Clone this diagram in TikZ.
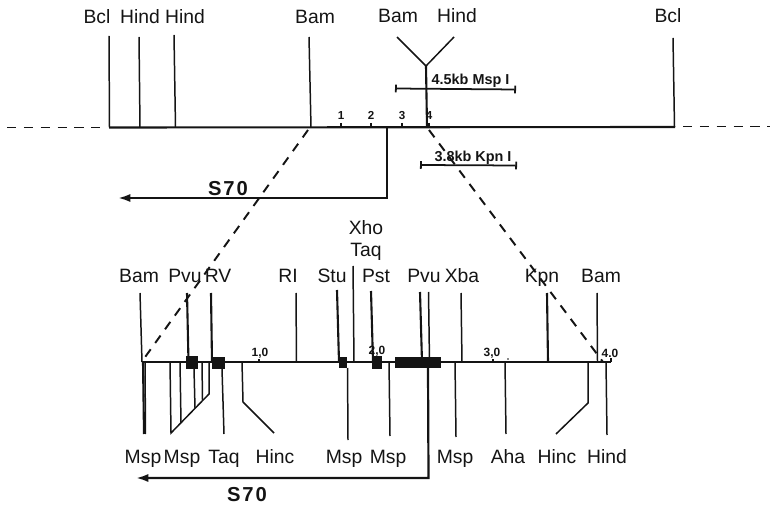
\documentclass[tikz,border=0pt]{standalone}
\usepackage{fontspec}
\setmainfont{Liberation Sans}
\usepackage{xcolor}
\usetikzlibrary{arrows.meta}
\definecolor{figline}{RGB}{20,20,20}
\tikzset{
  sc/.style   ={draw=figline, line width=0.85pt, line cap=butt},
  scb/.style  ={draw=figline, line width=1.2pt},
  dsh/.style  ={draw=figline, line width=1.1pt, dash pattern=on 5.2pt off 4.4pt},
  blk/.style  ={fill=figline, draw=none},
  lab/.style  ={font=\fontsize{11}{13}\selectfont, inner sep=0pt, anchor=base, text=figline},
  labs/.style ={font=\fontsize{6.6}{7}\selectfont\bfseries, inner sep=0pt, anchor=base, text=figline},
  labk/.style ={font=\fontsize{8.2}{9}\selectfont\bfseries, inner sep=0pt, anchor=base, text=figline},
  labm/.style ={font=\fontsize{6.8}{7}\selectfont\bfseries, inner sep=0pt, anchor=base, text=figline},
  labt/.style ={font=\fontsize{11.5}{13}\selectfont\bfseries\addfontfeature{LetterSpace=10}, inner sep=0pt, anchor=base, text=figline},
  ptr/.style  ={draw=figline, line width=1.25pt, -{Latex[length=7pt,width=4.6pt]}},
  rng/.style  ={draw=figline, line width=1pt, {Bar[width=4.4pt]}-{Bar[width=4.4pt]}},
}
\begin{document}
\begin{tikzpicture}[x=0.02cm,y=-0.02cm]
  \useasboundingbox (0,0) rectangle (770,506);
  % upper map
  \draw[dsh] (7,127.5) -- (105,127.5);
  \draw[dsh] (683,126.5) -- (770,126.5);
  \draw[scb] (109,127.5) -- (675,127);
  \draw[sc] (109,36) -- (109.5,127.5);
  \node[lab] (bclA) at (97,24) {Bcl};
  \draw[sc] (139,37) -- (140,127.5);
  \node[lab] (hindA) at (140,24) {Hind};
  \draw[sc] (174,35) -- (175.5,127.5);
  \node[lab] (hindB) at (185,24) {Hind};
  \draw[sc] (309,37) -- (311,127.5);
  \node[lab] (bamA) at (315,24) {Bam};
  \draw[sc] (673,38) -- (674.5,127);
  \node[lab] (bclB) at (668,23) {Bcl};
  \draw[sc] (397,37) -- (426,66) -- (454,37);
  \draw[scb] (426,66) -- (427,127);
  \node[lab] (bamB) at (398,23) {Bam};
  \node[lab] (hindC) at (457,23) {Hind};
  % scale of upper map
  \draw[sc] (341,123) -- (341,127);
  \node[labs] (ka) at (341,120) {1};
  \draw[sc] (371,123) -- (371,127);
  \node[labs] (kb) at (371,120) {2};
  \draw[sc] (402,123) -- (402,127);
  \node[labs] (kc) at (402,120) {3};
  \draw[sc] (429,123) -- (429,127);
  \node[labs] (kd) at (429,120) {4};
  % fragments
  \draw[rng] (395,88.5) -- (516,89.5);
  \node[labk] (fragA) at (470.5,85) {4.5kb Msp I};
  \draw[rng] (420,165) -- (517,165.5);
  \node[labk] (fragB) at (473,162) {3.8kb Kpn I};
  % transcript, upper
  \draw[ptr] (387,127.5) -- (387,198) -- (118,198);
  \node[labt] (txA) at (228,196) {S70};
  % zoom lines
  \draw[dsh] (308,130) -- (143,360);
  \draw[dsh] (429,130) -- (603,362);
  % lower map
  \draw[scb] (142,362) -- (611,362);
  \draw[sc] (140,293) -- (142,362);
  \node[lab] (bamL) at (139,282) {Bam};
  \draw[scb] (187,293) -- (188.5,362);
  \node[lab] (pvuL) at (185,282) {Pvu};
  \draw[scb] (211,293) -- (212,362);
  \node[lab] (rvL) at (218,282) {RV};
  \draw[sc] (296,293) -- (296.5,362);
  \node[lab] (riL) at (288,282) {RI};
  \draw[scb] (337,290) -- (339,362);
  \node[lab] (stuL) at (332,282) {Stu};
  \draw[sc] (353,266) -- (354,362);
  \node[lab] (xhoL) at (366,235) {Xho};
  \node[lab] (taqL) at (366,257) {Taq};
  \draw[scb] (371,291) -- (373,362);
  \node[lab] (pstL) at (376,282) {Pst};
  \draw[scb] (420,292) -- (422,362);
  \draw[sc] (428.5,292) -- (429.5,362);
  \node[lab] (pvuR) at (424,282) {Pvu};
  \draw[sc] (461,293) -- (462,362);
  \node[lab] (xbaL) at (462,282) {Xba};
  \draw[scb] (547,293) -- (548,362);
  \node[lab] (kpnL) at (542,282) {Kpn};
  \draw[sc] (597,293) -- (597.5,362);
  \node[lab] (bamR) at (601,282) {Bam};
  % blocks
  \fill[blk] (186,356) rectangle (198,369);
  \fill[blk] (212,357) rectangle (225,369);
  \fill[blk] (339,357) rectangle (347,368);
  \fill[blk] (372,356) rectangle (382,369);
  \fill[blk] (395,357) rectangle (441,368);
  % below the line
  \draw[scb] (143,362) -- (144,434);
  \draw[sc] (145,362) -- (145.5,434);
  \node[lab] (mspA) at (143,463) {Msp};
  \draw[sc] (170,362) -- (171,433) -- (209,394) -- (209,362);
  \draw[sc] (180,362) -- (181,423);
  \draw[sc] (194,369) -- (195,408);
  \draw[sc] (202,362) -- (202.5,400);
  \node[lab] (mspB) at (182,463) {Msp};
  \draw[sc] (222,369) -- (224,434);
  \node[lab] (taqB) at (224,463) {Taq};
  \draw[sc] (242,362) -- (243,402) -- (274,433);
  \node[lab] (hincA) at (275,463) {Hinc};
  \draw[sc] (347.5,368) -- (348,440);
  \node[lab] (mspC) at (344,463) {Msp};
  \draw[sc] (389,362) -- (390,436);
  \node[lab] (mspD) at (388,463) {Msp};
  \draw[sc] (455,362) -- (456,437);
  \node[lab] (mspE) at (455,463) {Msp};
  \draw[sc] (505,362) -- (506,434);
  \node[lab] (ahaA) at (508,463) {Aha};
  \draw[sc] (588,362) -- (588,403) -- (556,434);
  \node[lab] (hincB) at (557,463) {Hinc};
  \draw[sc] (606,362) -- (607,435);
  \node[lab] (hindD) at (607,463) {Hind};
  % scale of lower map
  \draw[sc] (259,359) -- (259,362);
  \node[labm] (sa) at (260,356) {1,0};
  \node[labm] (sb) at (377,354) {2,0};
  \draw[sc] (493,359) -- (493,362);
  \node[labm] (s3) at (492,356) {3,0};
  \fill[figline] (508,359) circle (0.8);
  \draw[sc] (611,358) -- (611,362);
  \node[labm] (sd) at (610,357) {4.0};
  % transcript, lower
  \draw[ptr] (428,368) -- (428.5,478) -- (136,478);
  \node[labt] (txB) at (247,501) {S70};
\end{tikzpicture}
\end{document}
